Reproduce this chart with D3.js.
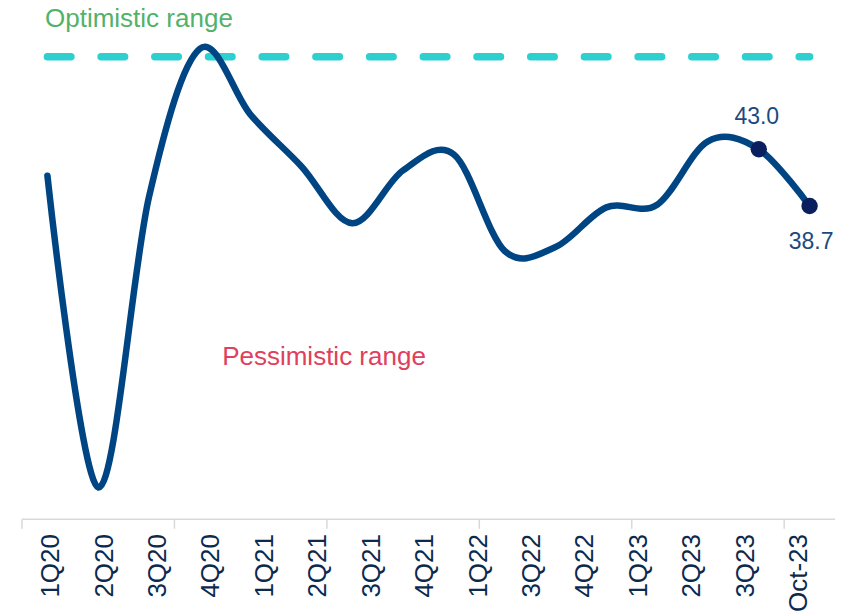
<!DOCTYPE html>
<html>
<head>
<meta charset="utf-8">
<script src="https://cdn.jsdelivr.net/npm/d3@7"></script>
<style>
  html, body { margin: 0; padding: 0; background: #ffffff; }
  svg { display: block; }
  text { font-family: "Liberation Sans", Arial, sans-serif; }
</style>
</head>
<body>
<svg id="chart" width="844" height="612"></svg>
<script>
// Quarterly index readings, plus the latest monthly reading
const categories = ["1Q20","2Q20","3Q20","4Q20","1Q21","2Q21","3Q21","4Q21",
                    "1Q22","2Q22","3Q22","4Q22","1Q23","2Q23","3Q23","Oct-23"];
const values = [41.0, 17.4, 39.4, 50.6, 45.6, 41.7, 37.4, 41.4,
                42.6, 35.3, 35.6, 38.6, 38.8, 43.6, 43.0, 38.7];
// Labels printed under the axis
const tickLabels = ["1Q20","2Q20","3Q20","4Q20","1Q21","2Q21","3Q21","4Q21",
                    "1Q22","3Q22","4Q22","1Q23","2Q23","3Q23","Oct-23"];
// Points that carry a value label
const labelled = ["3Q23", "Oct-23"];
const threshold = 50;
const yDomain = [15, 50];

const svg = d3.select("#chart");

const x = d3.scaleBand().domain(categories).range([22, 835]).paddingInner(0).paddingOuter(0);
const cx = c => x(c) + x.bandwidth() / 2;
const y = d3.scaleLinear().domain(yDomain).range([519.3, 56.7]);
const xl = d3.scalePoint().domain(tickLabels).range([50, 798]);

// threshold line (optimistic level)
svg.append("line")
  .attr("x1", cx(categories[0])).attr("x2", cx(categories[categories.length - 1]))
  .attr("y1", y(threshold)).attr("y2", y(threshold))
  .attr("stroke", "#2ECFCF").attr("stroke-width", 7.5)
  .attr("stroke-linecap", "round")
  .attr("stroke-dasharray", "23.5 30.2");

svg.append("text")
  .attr("x", 45).attr("y", 27)
  .attr("font-size", 26).attr("fill", "#52B26A")
  .text("Optimistic range");

svg.append("text")
  .attr("x", 324).attr("y", 365)
  .attr("text-anchor", "middle")
  .attr("font-size", 26).attr("fill", "#E0405C")
  .text("Pessimistic range");

// x axis: baseline with a tick every three categories
const axisY = y(yDomain[0]);
svg.append("line")
  .attr("x1", x.range()[0]).attr("x2", x.range()[1])
  .attr("y1", axisY).attr("y2", axisY)
  .attr("stroke", "#D9D9D9").attr("stroke-width", 1.5);

const tickIdx = d3.range(0, categories.length, 3);
svg.selectAll("line.tick").data(tickIdx).join("line")
  .attr("class", "tick")
  .attr("x1", i => x(categories[i])).attr("x2", i => x(categories[i]))
  .attr("y1", axisY).attr("y2", axisY + 9.5)
  .attr("stroke", "#D9D9D9").attr("stroke-width", 1.5);

svg.selectAll("text.xlab").data(tickLabels).join("text")
  .attr("class", "xlab")
  .attr("transform", d => `translate(${xl(d)},534) rotate(-90)`)
  .attr("dy", "0.35em")
  .attr("text-anchor", "end")
  .attr("font-size", 26)
  .attr("fill", "#0C2A4E")
  .text(d => d);

// smoothed index line
const line = d3.line()
  .x((d, i) => cx(categories[i]))
  .y(d => y(d))
  .curve(d3.curveCardinal.tension(0));

svg.append("path")
  .datum(values)
  .attr("d", line)
  .attr("fill", "none")
  .attr("stroke", "#004583")
  .attr("stroke-width", 6.5)
  .attr("stroke-linecap", "round")
  .attr("stroke-linejoin", "round");

// highlighted latest readings
const pts = labelled.map(c => ({ c, v: values[categories.indexOf(c)] }));
svg.selectAll("circle.pt").data(pts).join("circle")
  .attr("class", "pt")
  .attr("cx", d => cx(d.c)).attr("cy", d => y(d.v))
  .attr("r", 8.2)
  .attr("fill", "#0A1F5E");

svg.selectAll("text.val").data(pts).join("text")
  .attr("class", "val")
  .attr("x", (d, i) => cx(d.c) + (i === 0 ? -2 : 1.5))
  .attr("y", (d, i) => y(d.v) + (i === 0 ? -25 : 42.5))
  .attr("text-anchor", "middle")
  .attr("font-size", 23)
  .attr("fill", "#1B4A7E")
  .text(d => d.v.toFixed(1));
</script>
</body>
</html>
